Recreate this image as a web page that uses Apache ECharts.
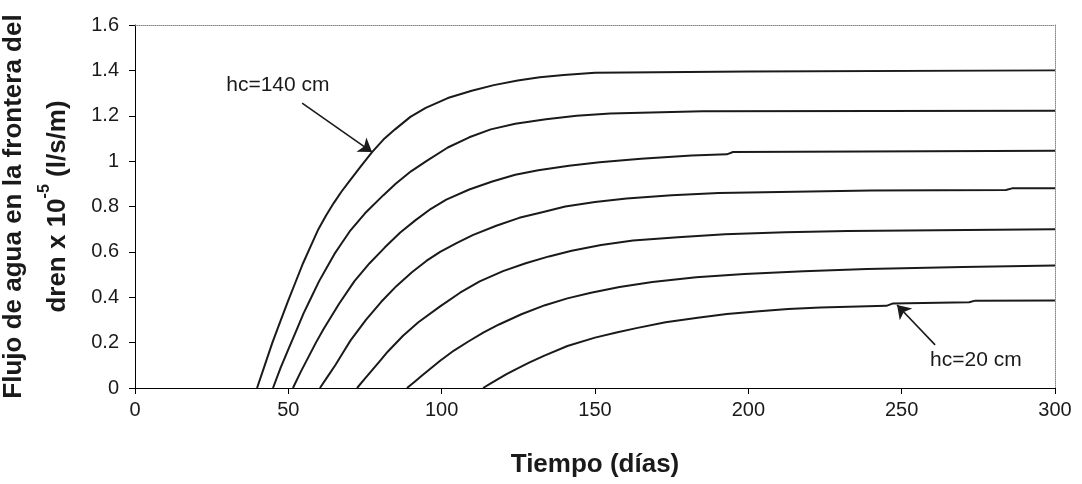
<!DOCTYPE html>
<html><head><meta charset="utf-8">
<script src="https://cdn.jsdelivr.net/npm/echarts@6/dist/echarts.min.js"></script>
<style>html,body{margin:0;padding:0;background:#fff}#c{width:1082px;height:484px}</style>
</head><body><div id="c"></div>
<script>
// x axis: Tiempo (días)
const xMin = 0, xMax = 300, xStep = 50;
// y axis: flow x 1e-5 (l/s/m)
const yMin = 0, yMax = 1.6, yStep = 0.2;

const seriesNames = ['hc=140 cm','hc=120 cm','hc=100 cm','hc=80 cm','hc=60 cm','hc=40 cm','hc=20 cm'];

const hc140 = [[39.8,0],[42.3,0.10],[44.8,0.20],[47.3,0.29],[49.8,0.38],[52.3,0.465],[54.8,0.55],[57.3,0.625],[59.8,0.70],[62.3,0.76],[64.8,0.815],[67.3,0.865],[69.8,0.91],[73.5,0.975],[77.3,1.04],[81,1.095],[84.8,1.14],[89.8,1.195],[94.8,1.235],[102,1.278],[109.8,1.31],[117,1.335],[124.8,1.355],[132,1.37],[139.8,1.38],[150,1.39],[200,1.395],[300,1.40]];
const hc120 = [[45,0],[47.5,0.09],[50,0.17],[52.5,0.25],[55,0.33],[57.5,0.40],[60,0.47],[62.5,0.53],[65,0.59],[67.5,0.64],[70,0.69],[75,0.77],[81,0.85],[85,0.90],[90,0.955],[95,1.0],[102,1.06],[109,1.105],[116,1.14],[124,1.165],[134,1.185],[144,1.20],[155,1.21],[185,1.22],[300,1.222]];
const hc100 = [[51.5,0],[54,0.07],[56.5,0.135],[59,0.20],[61.5,0.26],[64,0.315],[66.5,0.37],[71.5,0.47],[76.5,0.55],[81.5,0.62],[86.5,0.685],[91.5,0.74],[96.5,0.79],[101.5,0.83],[109,0.875],[116.5,0.91],[124,0.94],[131.5,0.96],[141.5,0.98],[151.5,0.995],[165,1.01],[181.5,1.025],[193,1.03],[195,1.04],[300,1.046]];
const hc80 = [[60.3,0],[62.8,0.05],[65.3,0.10],[67.8,0.155],[70.3,0.21],[75.3,0.30],[80.3,0.38],[85.3,0.45],[90.3,0.51],[95,0.56],[99.5,0.60],[105,0.64],[110.3,0.675],[117.8,0.715],[125.3,0.75],[132.8,0.775],[140.3,0.80],[150,0.82],[160.3,0.835],[175,0.85],[190.3,0.86],[240,0.87],[284,0.873],[286,0.88],[300,0.88]];
const hc60 = [[72.4,0],[74.9,0.04],[77.4,0.08],[79.9,0.12],[82.4,0.16],[87.4,0.23],[92.4,0.29],[99.5,0.36],[106,0.42],[112.4,0.47],[120,0.515],[127.4,0.55],[135,0.58],[142.4,0.605],[152,0.63],[162.4,0.65],[177,0.665],[192.4,0.678],[212,0.686],[232.4,0.692],[300,0.70]];
const hc40 = [[88.7,0],[91.2,0.028],[93.7,0.056],[96.6,0.088],[99.5,0.12],[104,0.165],[108.7,0.205],[113.7,0.245],[118.7,0.28],[126,0.325],[133.7,0.365],[141,0.395],[148.7,0.42],[158,0.445],[168.7,0.467],[183,0.488],[198.7,0.503],[218,0.515],[238.7,0.525],[270,0.533],[300,0.54]];
const hc20 = [[113.5,0],[116,0.02],[118.5,0.04],[121,0.06],[123.5,0.078],[128.5,0.112],[133.5,0.143],[141,0.185],[150,0.222],[157,0.245],[163.5,0.264],[173,0.29],[183.5,0.31],[193,0.326],[203.5,0.338],[213,0.348],[223.5,0.355],[245,0.362],[247,0.372],[272,0.378],[274,0.385],[300,0.386]];
const curves = [hc140, hc120, hc100, hc80, hc60, hc40, hc20];

// annotations (data coordinates)
const arrow140 = [[54.5,1.256],[77.3,1.04]];
const label140 = [46.6,1.335];
const arrow20 = [[260.9,0.19],[248.5,0.366]];
const label20 = [274.2,0.123];

const FONT = '"Liberation Sans", Arial, sans-serif';
const ink = '#1a1a1a';

const series = curves.map((d,i) => ({
  type:'line', name: seriesNames[i], data: d, showSymbol:false, smooth:false,
  lineStyle:{color:ink, width:2, join:'round'}, itemStyle:{color:ink}, z:3
}));

series.push({
  type:'line', data:[], silent:true,
  markLine:{
    silent:true, symbol:['none','arrow'], symbolSize:13, animation:false,
    lineStyle:{color:ink, width:1.6, type:'solid'}, label:{show:false},
    data:[
      [{coord:arrow140[0]},{coord:arrow140[1]}],
      [{coord:arrow20[0]},{coord:arrow20[1]}]
    ]
  },
  markPoint:{
    silent:true, symbol:'circle', symbolSize:1, itemStyle:{color:'transparent'}, animation:false,
    label:{show:true, position:'inside', color:ink, fontFamily:FONT, fontSize:21},
    data:[
      {coord:label140, label:{formatter:'hc=140 cm'}},
      {coord:label20, label:{formatter:'hc=20 cm'}}
    ]
  }
});

const chart = echarts.init(document.getElementById('c'), null, {renderer:'canvas'});
chart.setOption({
  animation:false,
  backgroundColor:'#fff',
  grid:{left:135, right:27, top:25, bottom:96, containLabel:false, outerBoundsMode:'none'},
  xAxis:[{
    type:'value', min:xMin, max:xMax, interval:xStep,
    axisLine:{show:true, onZero:false, lineStyle:{color:'#000', width:1}},
    axisTick:{show:true, length:6, lineStyle:{color:'#000'}},
    axisLabel:{fontFamily:FONT, fontSize:20, color:ink, margin:12},
    splitLine:{show:false},
    name:'Tiempo (días)', nameLocation:'middle', nameGap:64,
    nameTextStyle:{fontFamily:FONT, fontWeight:'bold', fontSize:26, color:ink}
  },{
    type:'value', position:'top', min:xMin, max:xMax, interval:xStep,
    axisLine:{show:true, onZero:false, lineStyle:{color:'#888', width:1, type:'dotted'}},
    axisTick:{show:false}, axisLabel:{show:false}, splitLine:{show:false}
  }],
  yAxis:[{
    type:'value', min:yMin, max:yMax, interval:yStep,
    axisLine:{show:true, onZero:false, lineStyle:{color:'#000', width:1}},
    axisTick:{show:true, length:6, lineStyle:{color:'#000'}},
    axisLabel:{fontFamily:FONT, fontSize:20, color:ink, margin:16},
    splitLine:{show:false},
    name:'Flujo de agua en la frontera del\ndren x 10{sup|-5} (l/s/m)',
    nameLocation:'middle', nameRotate:90, nameGap:50,
    nameTextStyle:{fontFamily:FONT, fontWeight:'bold', fontSize:26, color:ink, lineHeight:44, align:'center',
      rich:{sup:{fontFamily:FONT, fontWeight:'bold', fontSize:16, color:ink, lineHeight:30, verticalAlign:'top'}}}
  },{
    type:'value', position:'right', min:yMin, max:yMax, interval:yStep,
    axisLine:{show:true, onZero:false, lineStyle:{color:'#888', width:1, type:'dotted'}},
    axisTick:{show:false}, axisLabel:{show:false}, splitLine:{show:false}
  }],
  series: series
});
</script>
</body></html>
